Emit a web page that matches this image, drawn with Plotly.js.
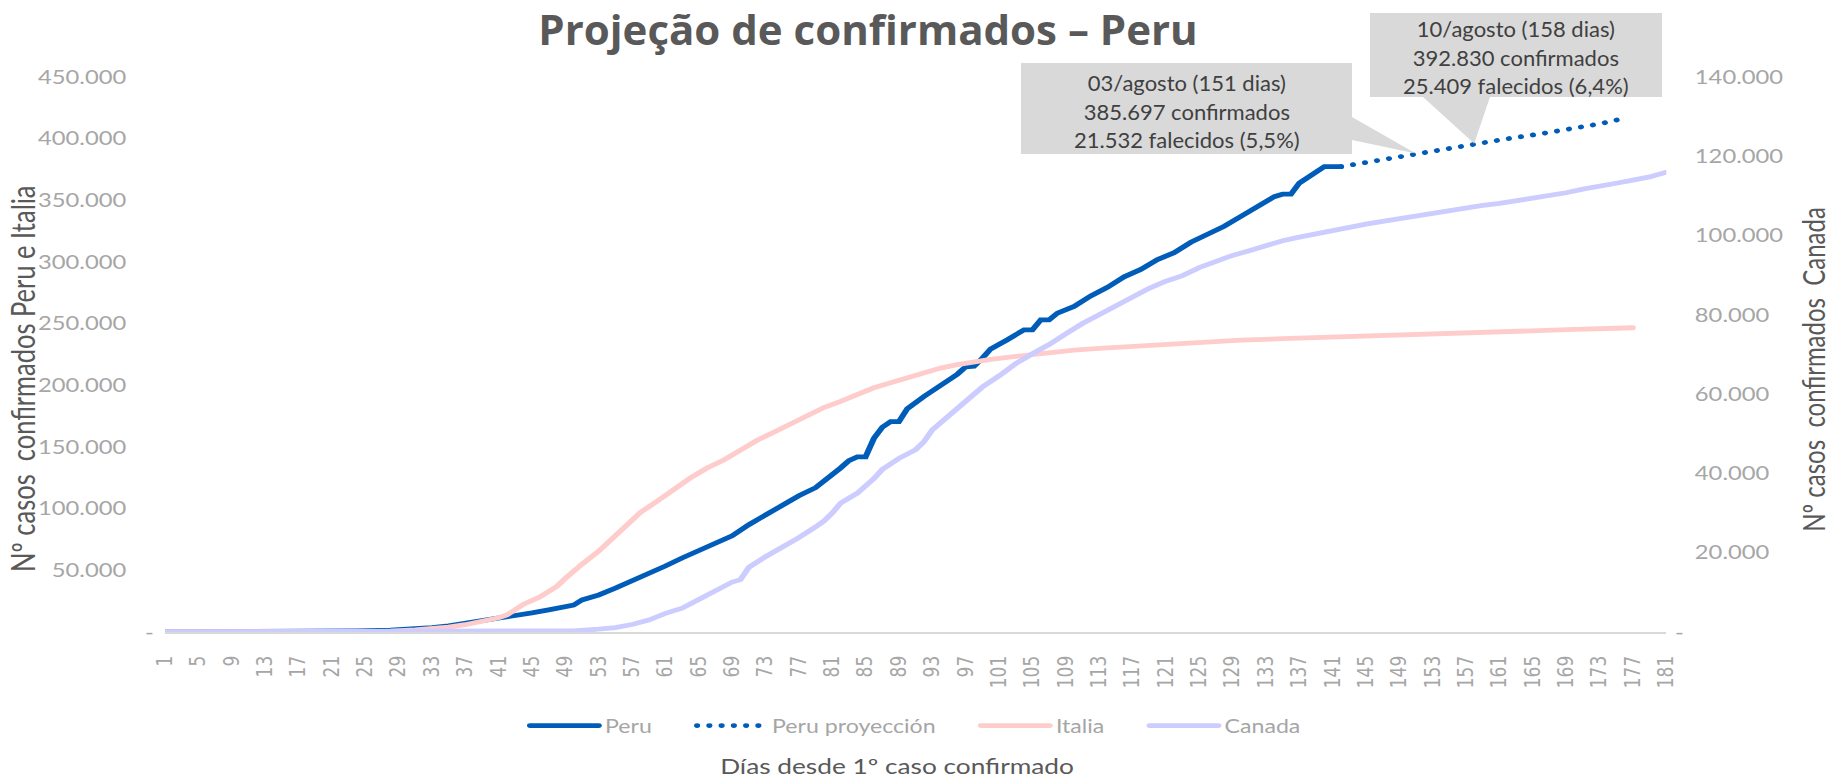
<!DOCTYPE html>
<html>
<head>
<meta charset="utf-8">
<script src="https://cdn.plot.ly/plotly-3.0.1.min.js"></script>
<style>
  html, body { margin: 0; padding: 0; background: #ffffff; }
  #wrap { position: relative; width: 1835px; height: 778px; overflow: hidden; }
  #chart { position: absolute; left: 0; top: 0; width: 1468px; height: 778px; transform: scaleX(1.25); transform-origin: 0 0; }
  #overlay { position: absolute; left: 0; top: 0; width: 1835px; height: 778px; pointer-events: none; }
  .js-line { stroke-linecap: round; }
</style>
</head>
<body>
<div id="wrap"><div id="chart"></div><div id="overlay"></div></div>
<script>
// ---------------- DATA ----------------
const seriesNames = ['Peru', 'Peru proyección', 'Italia', 'Canada'];

const peruDays  = [1,10,15,20,24,28,31,33,35,37,39,41,43,45,47,49,50,51,53,55,57,59,61,63,65,67,69,71,73,75,77,79,81,82,83,84,85,86,87,88,89,90,92,94,96,97,98,99,100,102,104,105,106,107,108,110,112,114,116,118,120,122,124,126,128,130,132,134,135,136,137,138,139,140,141,142];
const peruCases = [1,100,300,600,900,1500,2300,3500,5000,7000,9500,11800,13500,15500,18000,21000,21800,26000,30000,35500,41500,46500,53500,60000,66000,71000,78000,87000,95000,102000,110500,117000,127000,133000,139000,142000,142000,157000,166000,170500,170500,181000,191000,200000,209000,215000,215500,222000,229500,237000,245000,245000,253000,253000,258500,264000,272500,279500,288000,294000,302000,307500,316000,322500,329000,337000,345000,353000,355000,355000,364000,368500,373000,377300,377300,377300];

const projDays  = [142,147,151,155,158,162,166,170,173,176];
const projCases = [377300,383000,388000,392500,396000,400000,404000,408500,412000,416500];

const italiaDays  = [1,22,25,28,31,33,35,37,39,41,42,43,44,46,48,49,50,51,53,55,57,58,60,62,64,66,68,70,72,74,76,78,80,82,84,86,88,90,92,94,96,98,100,102,104,106,108,110,113,116,120,125,130,135,140,145,150,155,160,165,170,175,177];
const italiaCases = [2,20,300,700,1700,2500,3900,5900,8500,11500,13800,18500,22500,28600,37000,43500,49500,55000,65500,78000,90500,97000,106000,116000,125000,133000,139500,147500,155500,162000,168500,176000,182000,187000,193000,198000,202000,206200,210500,214000,216800,219200,221000,222700,224400,226000,227400,228600,230000,231300,233300,235300,236700,237800,239000,240200,241300,242600,243700,244600,245300,246300,246700];

const canadaDays  = [1,20,40,46,50,53,55,57,59,61,63,65,67,69,70,71,73,75,77,79,80,81,82,84,86,87,89,91,92,93,95,97,99,101,103,105,107,109,111,113,115,117,119,121,123,125,127,129,131,133,135,137,139,141,143,145,147,149,151,153,155,157,159,161,163,165,167,169,171,173,175,177,179,181];
const canadaCases = [1,4,30,80,300,700,1100,1900,3000,4700,6000,8200,10400,12600,13200,16300,19000,21300,23800,26500,28000,30000,32500,35000,38700,41000,43800,46000,48000,51000,54500,58100,61800,64600,67700,70200,72500,75200,77800,80000,82300,84700,86700,88500,89900,91900,93600,95000,96200,97500,98700,99600,100500,101300,102100,102900,103600,104300,104900,105600,106400,107000,107600,108100,108700,109300,109900,110800,111700,112300,113200,114000,114800,116000];

const yLeftTicks  = [0,50000,100000,150000,200000,250000,300000,350000,400000,450000];
const yLeftLabels = ['-','50.000','100.000','150.000','200.000','250.000','300.000','350.000','400.000','450.000'];
const yRightTicks  = [0,20000,40000,60000,80000,100000,120000,140000];
const yRightLabels = ['-','20.000','40.000','60.000','80.000','100.000','120.000','140.000'];

const chartTitle  = 'Projeção de confirmados – Peru';
const xTitle      = 'Días desde 1º caso confirmado';
const yLeftTitle  = 'Nº casos\u00A0 confirmados Peru e Italia';
const yRightTitle = 'Nº casos\u00A0 confirmados\u00A0 Canada';

const callout1Day = 151;
const callout1Lines = ['03/agosto (151 dias)', '385.697 confirmados', '21.532 falecidos (5,5%)'];
const callout2Day = 158;
const callout2Lines = ['10/agosto (158 dias)', '392.830 confirmados', '25.409 falecidos (6,4%)'];

// ---------------- GEOMETRY ----------------
const STRETCH = 1.25;
const FULL_W = 1835, H = 778;
const W = FULL_W / STRETCH;
const ML = 132, MR = 135.2, MT = 77, MB = 146;
const X_RANGE = [1, 181];
const YL_RANGE = [0, 450000];
const YR_RANGE = [0, 140000];
const plotWpre = W - ML - MR;
const plotH = H - MT - MB;

const GREY_TICK = '#a6a6a6';
const GREY_TITLE = '#595959';

const leftLabels  = yLeftLabels.map(t => t === '-' ? t : t + '\u2007\u2007');
const rightLabels = yRightLabels.map(t => t === '-' ? t : '\u2007\u00A0' + t);
// extra spacing after each legend entry (Excel-like legend gaps)
const legendPad = '\u2007\u2007\u00A0';
const legendNames = seriesNames.map((n, i) => i < seriesNames.length - 1 ? n + legendPad : n);

const lineW = 4.8;
const traces = [
  { x: peruDays, y: peruCases, name: legendNames[0], type: 'scatter', mode: 'lines',
    line: { color: '#005cb9', width: lineW }, yaxis: 'y' },
  { x: projDays, y: projCases, name: legendNames[1], type: 'scatter', mode: 'lines',
    line: { color: '#005cb9', width: lineW, dash: '0.1px,9.7px' }, yaxis: 'y' },
  { x: italiaDays, y: italiaCases, name: legendNames[2], type: 'scatter', mode: 'lines',
    line: { color: '#ffcccc', width: lineW }, yaxis: 'y' },
  { x: canadaDays, y: canadaCases, name: legendNames[3], type: 'scatter', mode: 'lines',
    line: { color: '#ccccff', width: lineW }, yaxis: 'y2' }
];

const tickFontY = { family: 'Lato', size: 19, color: GREY_TICK };
const yTitleFont = { family: 'Lato', color: GREY_TITLE };

const layout = {
  width: W, height: H,
  margin: { l: ML, r: MR, t: MT, b: MB, pad: 0 },
  paper_bgcolor: '#ffffff', plot_bgcolor: '#ffffff',
  showlegend: true,
  legend: {
    orientation: 'h', x: 0.5, xanchor: 'center',
    y: -(726 - (H - MB)) / plotH, yanchor: 'middle',
    font: { family: 'Lato', size: 18.5, color: GREY_TICK },
    itemwidth: 55, traceorder: 'normal', bgcolor: 'rgba(0,0,0,0)'
  },
  xaxis: {
    range: X_RANGE, tickmode: 'linear', tick0: 1, dtick: 4, tickangle: -90,
    tickfont: { family: 'DejaVu Sans', size: 17, color: GREY_TICK },
    showgrid: false, zeroline: false, showline: true, linecolor: '#d9d9d9', linewidth: 2,
    ticks: '', ticklabelstandoff: 15, automargin: false, fixedrange: true,
    title: { text: xTitle + '\u2007\u2007\u00A0\u200B', font: { family: 'Lato', size: 21, color: GREY_TITLE }, standoff: 78 }
  },
  yaxis: {
    range: YL_RANGE, tickmode: 'array', tickvals: yLeftTicks, ticktext: leftLabels,
    tickfont: tickFontY,
    showgrid: false, zeroline: false, showline: false, ticks: '', ticklabelstandoff: 8,
    automargin: false, fixedrange: true
  },
  yaxis2: {
    range: YR_RANGE, overlaying: 'y', side: 'right', tickmode: 'array',
    tickvals: yRightTicks, ticktext: rightLabels,
    tickfont: tickFontY,
    showgrid: false, zeroline: false, showline: false, ticks: '', ticklabelstandoff: 6,
    automargin: false, fixedrange: true
  },
  annotations: [
    { text: yLeftTitle, textangle: -90, xref: 'paper', yref: 'paper',
      x: (18 - ML) / plotWpre, y: (H - MB - 379) / plotH, xanchor: 'center', yanchor: 'middle',
      showarrow: false, font: Object.assign({ size: 25.5 }, yTitleFont) },
    { text: yRightTitle, textangle: -90, xref: 'paper', yref: 'paper',
      x: 1 + (1449.6 - (W - MR)) / plotWpre, y: (H - MB - 369) / plotH, xanchor: 'center', yanchor: 'middle',
      showarrow: false, font: Object.assign({ size: 24 }, yTitleFont) }
  ]
};

Plotly.newPlot('chart', traces, layout, { staticPlot: true, displayModeBar: false });

// ---------------- OVERLAY: title and callouts (not stretched) ----------------
const plotW = plotWpre * STRETCH;
function dayToPx(d) { return ML * STRETCH + (d - X_RANGE[0]) / (X_RANGE[1] - X_RANGE[0]) * plotW; }
function valToPy(v) { return MT + (1 - (v - YL_RANGE[0]) / (YL_RANGE[1] - YL_RANGE[0])) * plotH; }

const tip1 = { x: dayToPx(callout1Day), y: valToPy(projCases[projDays.indexOf(callout1Day)]) };
const tip2 = { x: dayToPx(callout2Day), y: valToPy(projCases[projDays.indexOf(callout2Day)]) };

const box1 = { x0: 1021, x1: 1352, y0: 63, y1: 154, ta: 117, tb: 140 };
const box2 = { x0: 1370, x1: 1662, y0: 13, y1: 97, ta: 1423, tb: 1490 };

const path1 = `M${box1.x0},${box1.y0} L${box1.x1},${box1.y0} L${box1.x1},${box1.ta} L${tip1.x},${tip1.y} L${box1.x1},${box1.tb} L${box1.x1},${box1.y1} L${box1.x0},${box1.y1} Z`;
const path2 = `M${box2.x0},${box2.y0} L${box2.x1},${box2.y0} L${box2.x1},${box2.y1} L${box2.tb},${box2.y1} L${tip2.x},${tip2.y} L${box2.ta},${box2.y1} L${box2.x0},${box2.y1} Z`;

const calloutFont = { family: 'Lato', size: 22, color: '#404040' };
const overlayLayout = {
  width: FULL_W, height: H,
  margin: { l: 0, r: 0, t: 0, b: 0, pad: 0 },
  paper_bgcolor: 'rgba(0,0,0,0)', plot_bgcolor: 'rgba(0,0,0,0)',
  showlegend: false,
  title: {
    text: '<b>' + chartTitle + '</b>',
    x: 868 / FULL_W, xanchor: 'center', y: 1 - 30.5 / H, yanchor: 'middle',
    font: { family: 'Open Sans', size: 42, color: GREY_TITLE }
  },
  xaxis: { visible: false, range: [0, FULL_W], fixedrange: true },
  yaxis: { visible: false, range: [H, 0], fixedrange: true },
  shapes: [
    { type: 'path', xref: 'x', yref: 'y', path: path1, fillcolor: '#d9d9d9', line: { width: 0 }, layer: 'below' },
    { type: 'path', xref: 'x', yref: 'y', path: path2, fillcolor: '#d9d9d9', line: { width: 0 }, layer: 'below' }
  ],
  annotations: [
    { xref: 'x', yref: 'y', x: (box1.x0 + box1.x1) / 2, y: 111, text: callout1Lines.join('<br>'),
      showarrow: false, align: 'center', xanchor: 'center', yanchor: 'middle', font: calloutFont },
    { xref: 'x', yref: 'y', x: (box2.x0 + box2.x1) / 2, y: 57, text: callout2Lines.join('<br>'),
      showarrow: false, align: 'center', xanchor: 'center', yanchor: 'middle', font: calloutFont }
  ]
};
Plotly.newPlot('overlay', [], overlayLayout, { staticPlot: true, displayModeBar: false });
</script>
</body>
</html>
